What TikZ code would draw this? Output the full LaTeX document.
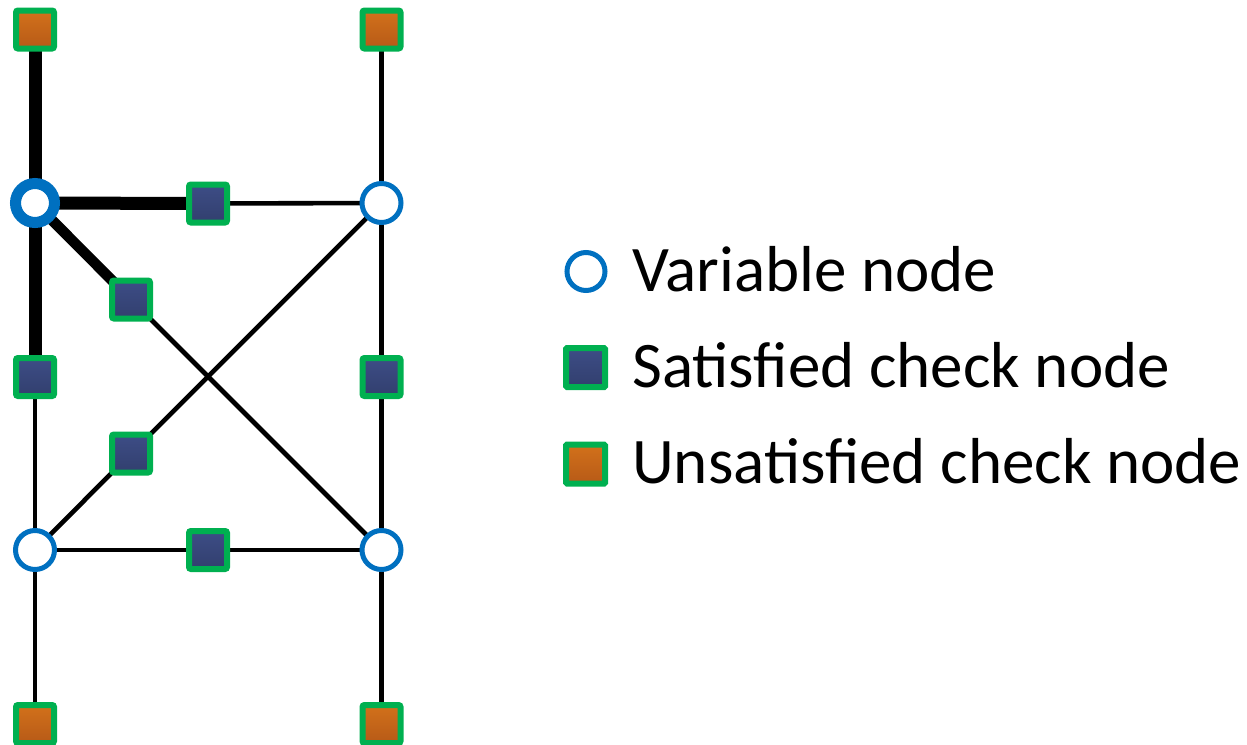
\documentclass[tikz,border=0pt]{standalone}
\usepackage{fontspec}
\setmainfont{Carlito}
\usetikzlibrary{backgrounds}
\definecolor{varblue}{HTML}{0070C0}
\definecolor{chkgreen}{HTML}{00B050}
\definecolor{navytop}{HTML}{3D4D86}
\definecolor{navybot}{HTML}{323F6E}
\definecolor{orgtop}{HTML}{D2711B}
\definecolor{orgbot}{HTML}{B75A17}
\tikzset{
  varnode/.style={circle, draw=varblue, line width=5pt, fill=white, minimum size=39pt, inner sep=0pt},
  varhot/.style={varnode, line width=11pt},
  satnode/.style={rectangle, rounded corners=2pt, draw=chkgreen, line width=6pt, top color=navytop, bottom color=navybot, minimum size=38pt, inner sep=0pt},
  unsatnode/.style={satnode, top color=orgtop, bottom color=orgbot},
  edge/.style={line width=4.6pt, line cap=round},
  hotedge/.style={line width=13pt, line cap=round},
  hotdiag/.style={line width=10.5pt, line cap=round},
  legtext/.style={anchor=base west, inner sep=0pt, font=\fontsize{65}{78}\selectfont}
}
\begin{document}
\begin{tikzpicture}[x=1pt, y=-1pt]
\useasboundingbox (0,0) rectangle (1247,744);
\clip (0,0) rectangle (1247,744);

% variable nodes
\node[varhot]  (v1) at (35,203) {};
\node[varnode] (v2) at (381.5,203) {};
\node[varnode] (v3) at (35,550) {};
\node[varnode] (v4) at (381.5,550) {};

% check nodes
\node[unsatnode] (u1) at (35,29.5) {};
\node[unsatnode] (u2) at (381.5,29.5) {};
\node[unsatnode] (u3) at (35,724) {};
\node[unsatnode] (u4) at (381.5,724) {};
\node[satnode] (c1) at (208,203.5) {};
\node[satnode] (c2) at (131,299.5) {};
\node[satnode] (c3) at (35,377) {};
\node[satnode] (c4) at (381.5,377) {};
\node[satnode] (c5) at (131,453.5) {};
\node[satnode] (c6) at (208,550) {};

% connectors, behind the nodes
\begin{scope}[on background layer]
  \draw[hotedge] (u1.center) -- (v1.center);
  \draw[hotedge] (v1.center) -- (c1.center);
  \draw[hotdiag] (v1.center) -- (c2.center);
  \draw[hotedge] (v1.center) -- (c3.center);
  \draw[edge] (u2.center) -- (v2.center);
  \draw[edge] (c1.center) -- (v2.center);
  \draw[edge] (v2.center) -- (c5.center);
  \draw[edge] (v2.center) -- (c4.center);
  \draw[edge] (c2.center) -- (v4.center);
  \draw[edge] (c3.center) -- (v3.center);
  \draw[edge] (c5.center) -- (v3.center);
  \draw[edge] (v3.center) -- (c6.center);
  \draw[edge] (c6.center) -- (v4.center);
  \draw[edge] (c4.center) -- (v4.center);
  \draw[edge] (v3.center) -- (u3.center);
  \draw[edge] (v4.center) -- (u4.center);
\end{scope}

% legend
\node[varnode, minimum size=38pt] (lv) at (586,271.5) {};
\node[satnode, minimum size=39pt, rounded corners=1pt] (ls) at (585.5,367.5) {};
\node[unsatnode, minimum size=39pt, rounded corners=1pt] (lu) at (585.5,464) {};
\node[legtext] (tv) at (632,291) {Variable node};
\node[legtext] (ts) at (632,387) {Satisfied check node};
\node[legtext] (tu) at (632,483) {Unsatisfied check node};
\end{tikzpicture}
\end{document}
